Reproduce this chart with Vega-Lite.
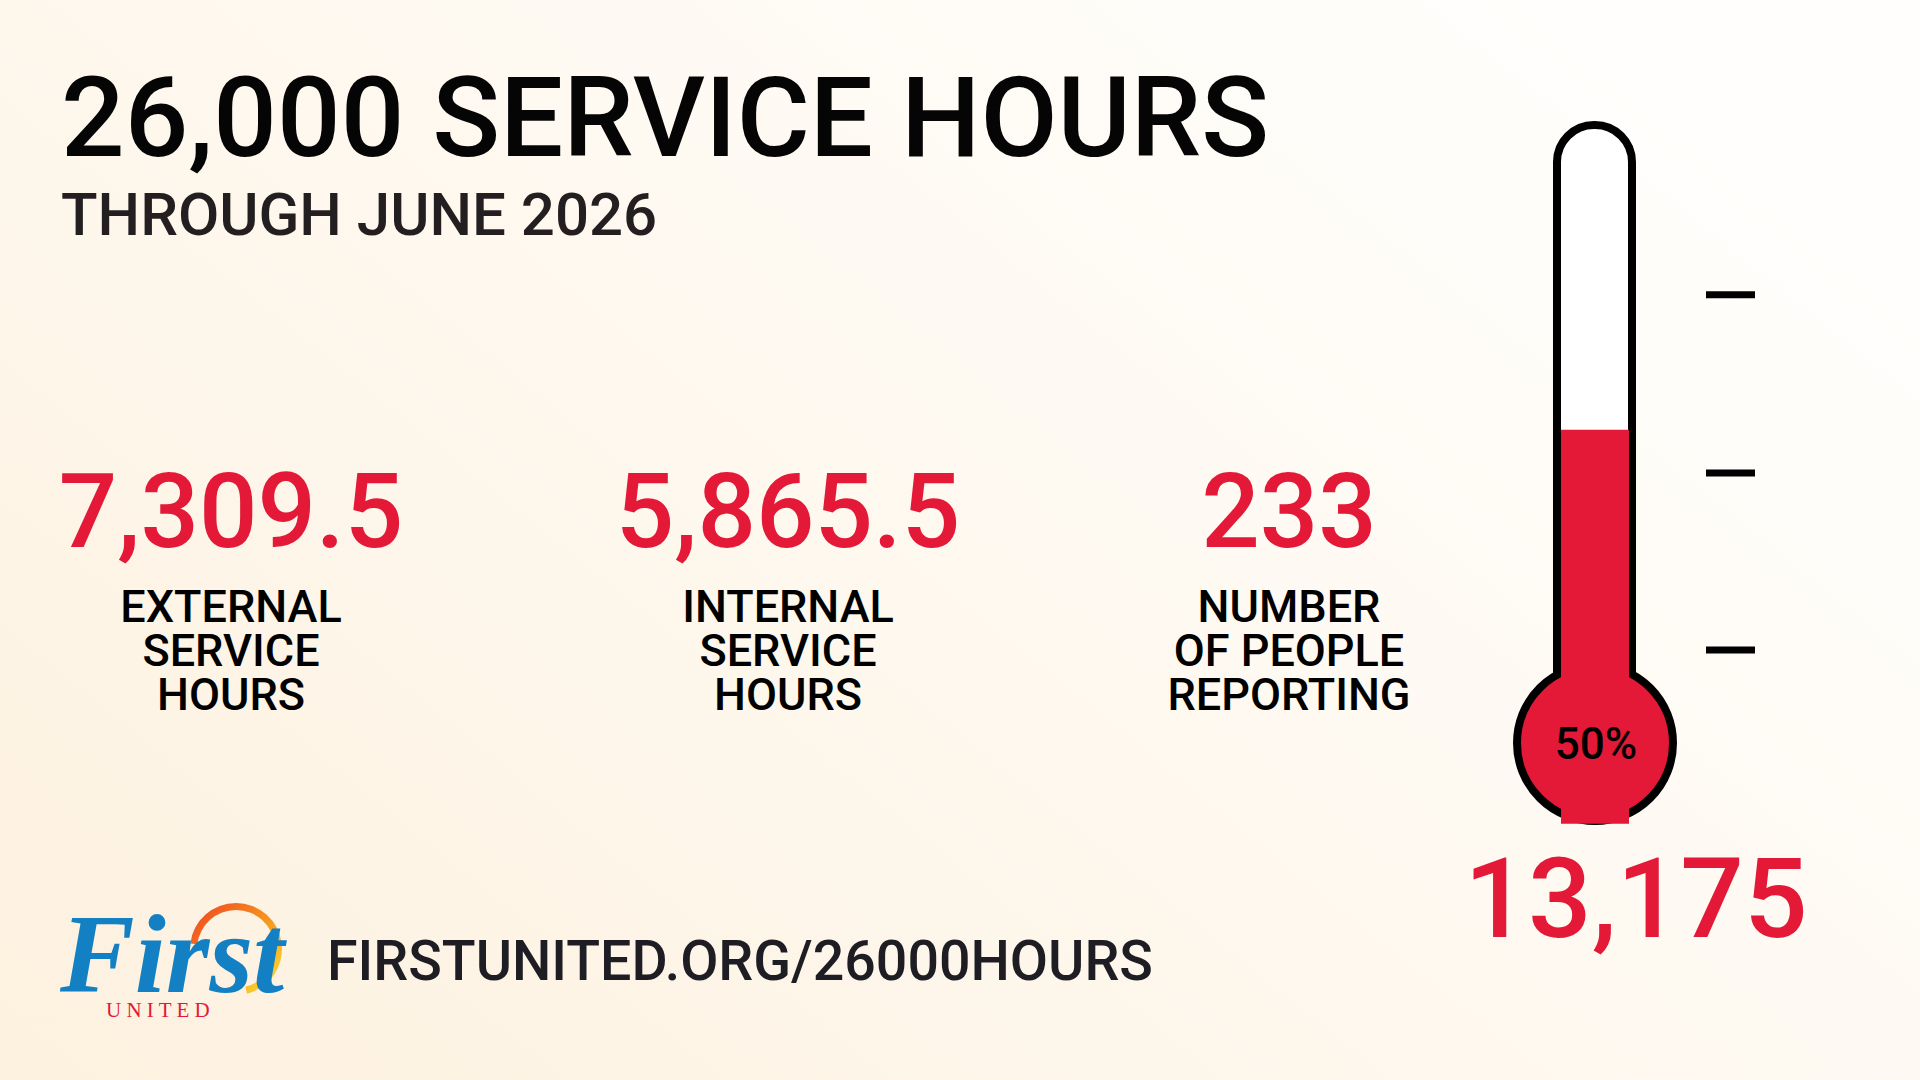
{
  "$schema": "https://vega.github.io/schema/vega-lite/v6.json",
  "width": 1920,
  "height": 1080,
  "padding": 0,
  "autosize": {"type": "fit", "contains": "padding"},
  "background": "#fefaf3",
  "config": {
    "view": {
      "stroke": null,
      "fill": {
        "gradient": "linear",
        "x1": 0, "y1": 1, "x2": 1, "y2": 0.3,
        "stops": [
          {"offset": 0, "color": "#fdf1df"},
          {"offset": 1, "color": "#fffefc"}
        ]
      }
    },
    "axis": {"disable": true},
    "text": {"font": "Roboto"}
  },
  "resolve": {"scale": {"x": "independent", "y": "independent"}},
  "layer": [
    {
      "data": {"values": [
        {"line": "title", "text": "26,000 SERVICE HOURS"},
        {"line": "subtitle", "text": "THROUGH JUNE 2026"}
      ]},
      "encoding": {
        "x": {"datum": 61, "type": "quantitative", "scale": {"domain": [0, 1920], "range": [0, 1920], "nice": false, "zero": false}, "axis": null},
        "y": {"field": "line", "type": "nominal", "scale": {"type": "point", "domain": ["title", "subtitle"], "range": [156, 235], "padding": 0}, "axis": null},
        "text": {"field": "text"}
      },
      "layer": [
        {
          "transform": [{"filter": "datum.line == 'title'"}],
          "mark": {"type": "text", "align": "left", "baseline": "alphabetic", "fontSize": 112, "fontWeight": 500, "color": "#050505"}
        },
        {
          "transform": [{"filter": "datum.line == 'subtitle'"}],
          "mark": {"type": "text", "align": "left", "baseline": "alphabetic", "fontSize": 60, "fontWeight": 500, "color": "#231f20"}
        }
      ]
    },
    {
      "data": {"values": [
        {"metric": "External service hours", "order": 1, "value": 7309.5, "label": "EXTERNAL\nSERVICE\nHOURS"},
        {"metric": "Internal service hours", "order": 2, "value": 5865.5, "label": "INTERNAL\nSERVICE\nHOURS"},
        {"metric": "Number of people reporting", "order": 3, "value": 233, "label": "NUMBER\nOF PEOPLE\nREPORTING"}
      ]},
      "encoding": {
        "x": {"field": "order", "type": "quantitative", "scale": {"domain": [1, 2, 3], "range": [231, 788, 1289], "nice": false, "zero": false}, "axis": null}
      },
      "layer": [
        {
          "mark": {"type": "text", "align": "center", "baseline": "alphabetic", "fontSize": 103, "fontWeight": 500, "color": "#e31937"},
          "encoding": {
            "y": {"datum": "figure", "type": "nominal", "scale": {"type": "point", "domain": ["figure", "caption"], "range": [547, 622], "padding": 0}, "axis": null},
            "text": {"field": "value", "type": "quantitative", "format": ","}
          }
        },
        {
          "mark": {"type": "text", "align": "center", "baseline": "alphabetic", "fontSize": 45, "fontWeight": 500, "lineHeight": 44, "lineBreak": "\n", "color": "#000000"},
          "encoding": {
            "y": {"datum": "caption", "type": "nominal", "scale": {"type": "point", "domain": ["figure", "caption"], "range": [547, 622], "padding": 0}, "axis": null},
            "text": {"field": "label"}
          }
        }
      ]
    },
    {
      "data": {"values": [{"raised": 13175, "goal": 26000, "share": 0.5}]},
      "layer": [
        {
          "mark": {"type": "rect", "fill": "#ffffff", "stroke": "#000000", "strokeWidth": 8, "cornerRadiusTopLeft": 37, "cornerRadiusTopRight": 37},
          "encoding": {
            "x": {"datum": 1557, "type": "quantitative", "scale": {"domain": [0, 1920], "range": [0, 1920], "nice": false, "zero": false}, "axis": null},
            "x2": {"datum": 1632},
            "y": {"field": "goal", "type": "quantitative", "scale": {"domain": [0, 26000], "range": [743, 125], "nice": false, "zero": false}, "axis": null},
            "y2": {"datum": 0}
          }
        },
        {
          "mark": {"type": "point", "shape": "circle", "size": 24336, "filled": true, "color": "#e31937", "stroke": "#000000", "strokeWidth": 8, "opacity": 1},
          "encoding": {
            "x": {"datum": 1595, "type": "quantitative", "scale": {"domain": [0, 1920], "range": [0, 1920], "nice": false, "zero": false}, "axis": null},
            "y": {"datum": 0, "type": "quantitative", "scale": {"domain": [0, 26000], "range": [743, 125], "nice": false, "zero": false}, "axis": null}
          }
        },
        {
          "mark": {"type": "rect", "color": "#e31937"},
          "encoding": {
            "x": {"datum": 1561, "type": "quantitative", "scale": {"domain": [0, 1920], "range": [0, 1920], "nice": false, "zero": false}, "axis": null},
            "x2": {"datum": 1629},
            "y": {"field": "raised", "type": "quantitative", "scale": {"domain": [0, 26000], "range": [743, 125], "nice": false, "zero": false}, "axis": null},
            "y2": {"datum": -3400}
          }
        },
        {
          "data": {"values": [{"level": 18860}, {"level": 11360}, {"level": 3910}]},
          "mark": {"type": "rule", "color": "#000000", "strokeWidth": 7, "strokeCap": "butt"},
          "encoding": {
            "x": {"datum": 1706, "type": "quantitative", "scale": {"domain": [0, 1920], "range": [0, 1920], "nice": false, "zero": false}, "axis": null},
            "x2": {"datum": 1755},
            "y": {"field": "level", "type": "quantitative", "scale": {"domain": [0, 26000], "range": [743, 125], "nice": false, "zero": false}, "axis": null}
          }
        },
        {
          "mark": {"type": "text", "align": "center", "baseline": "alphabetic", "fontSize": 44, "fontWeight": 500, "color": "#000000"},
          "encoding": {
            "x": {"datum": 1596, "type": "quantitative", "scale": {"domain": [0, 1920], "range": [0, 1920], "nice": false, "zero": false}, "axis": null},
            "y": {"datum": -673, "type": "quantitative", "scale": {"domain": [0, 26000], "range": [743, 125], "nice": false, "zero": false}, "axis": null},
            "text": {"field": "share", "type": "quantitative", "format": ".0%"}
          }
        }
      ]
    },
    {
      "data": {"values": [{"raised": 13175}]},
      "mark": {"type": "text", "align": "center", "baseline": "alphabetic", "fontSize": 112, "fontWeight": 500, "color": "#e31937"},
      "encoding": {
        "x": {"datum": 1636, "type": "quantitative", "scale": {"domain": [0, 1920], "range": [0, 1920], "nice": false, "zero": false}, "axis": null},
        "y": {"datum": 937, "type": "quantitative", "scale": {"domain": [0, 1080], "range": [0, 1080], "nice": false, "zero": false}, "axis": null},
        "text": {"field": "raised", "type": "quantitative", "format": ","}
      }
    },
    {
      "data": {"values": [{"link": "FIRSTUNITED.ORG/26000HOURS"}]},
      "mark": {"type": "text", "align": "left", "baseline": "alphabetic", "fontSize": 55.5, "fontWeight": 500, "color": "#1d1d23"},
      "encoding": {
        "x": {"datum": 327, "type": "quantitative", "scale": {"domain": [0, 1920], "range": [0, 1920], "nice": false, "zero": false}, "axis": null},
        "y": {"datum": 980, "type": "quantitative", "scale": {"domain": [0, 1080], "range": [0, 1080], "nice": false, "zero": false}, "axis": null},
        "text": {"field": "link"}
      }
    },
    {
      "data": {"values": [{"name": "First", "sub": "U N I T E D"}]},
      "encoding": {
        "x": {"datum": 60, "type": "quantitative", "scale": {"domain": [0, 1920], "range": [0, 1920], "nice": false, "zero": false}, "axis": null},
        "y": {"datum": 992, "type": "quantitative", "scale": {"domain": [0, 1080], "range": [0, 1080], "nice": false, "zero": false}, "axis": null}
      },
      "layer": [
        {
          "mark": {
            "type": "arc", "radius": 46, "radius2": 39, "theta": -1.45, "theta2": 2.9,
            "fill": {
              "gradient": "linear", "x1": 0, "y1": 0, "x2": 1, "y2": 1,
              "stops": [
                {"offset": 0, "color": "#ee4023"},
                {"offset": 0.5, "color": "#f7941d"},
                {"offset": 1, "color": "#fde33a"}
              ]
            }
          },
          "encoding": {"x": {"datum": 236}, "y": {"datum": 949}}
        },
        {
          "mark": {"type": "text", "align": "left", "baseline": "alphabetic", "font": "Liberation Serif", "fontStyle": "italic", "fontWeight": "bold", "fontSize": 112, "color": "#1480c4"},
          "encoding": {"text": {"field": "name"}}
        },
        {
          "mark": {"type": "text", "align": "left", "baseline": "alphabetic", "font": "Liberation Serif", "fontSize": 21, "color": "#e31937"},
          "encoding": {"x": {"datum": 106}, "y": {"datum": 1017}, "text": {"field": "sub"}}
        }
      ]
    }
  ]
}
